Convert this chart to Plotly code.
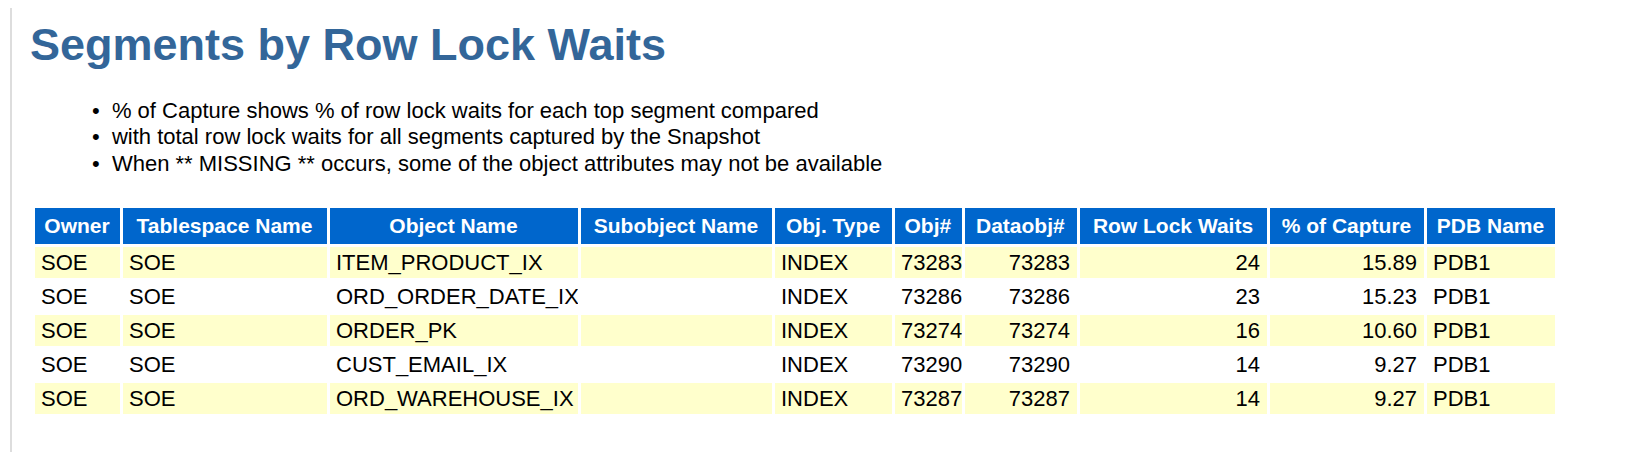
import plotly.graph_objects as go

W, H = 1649, 452

owner = ["SOE", "SOE", "SOE", "SOE", "SOE"]
tablespace = ["SOE", "SOE", "SOE", "SOE", "SOE"]
object_name = ["ITEM_PRODUCT_IX", "ORD_ORDER_DATE_IX", "ORDER_PK", "CUST_EMAIL_IX", "ORD_WAREHOUSE_IX"]
subobject = ["", "", "", "", ""]
obj_type = ["INDEX", "INDEX", "INDEX", "INDEX", "INDEX"]
obj_num = [73283, 73286, 73274, 73290, 73287]
dataobj_num = [73283, 73286, 73274, 73290, 73287]
row_lock_waits = [24, 23, 16, 14, 14]
pct_capture = [15.89, 15.23, 10.60, 9.27, 9.27]
pdb_name = ["PDB1", "PDB1", "PDB1", "PDB1", "PDB1"]

headers = ["Owner", "Tablespace Name", "Object Name", "Subobject Name", "Obj. Type",
           "Obj#", "Dataobj#", "Row Lock Waits", "% of Capture", "PDB Name"]
bullets = [
    "% of Capture shows % of row lock waits for each top segment compared",
    "with total row lock waits for all segments captured by the Snapshot",
    "When ** MISSING ** occurs, some of the object attributes may not be available",
]

col_w = [88, 207, 251, 194, 120, 70, 115, 190, 157, 131]
x0, x1 = 25, 1548
y_top = 198

columns = [owner, tablespace, object_name, subobject, obj_type,
           [str(v) for v in obj_num], [str(v) for v in dataobj_num],
           [str(v) for v in row_lock_waits], ["%.2f" % v for v in pct_capture], pdb_name]
align = ["left", "left", "left", "left", "left", "left", "right", "right", "right", "left"]
fills = [["#FFFFCC" if i % 2 == 0 else "#FFFFFF" for i in range(len(owner))]] * len(headers)

fig = go.Figure(go.Table(
    columnwidth=col_w,
    domain=dict(x=[x0 / W, x1 / W], y=[0, 1 - y_top / H]),
    header=dict(values=["<b>%s</b>" % h for h in headers], fill_color="#0066CC",
                line=dict(color="white", width=3), align="center", height=32,
                font=dict(family="Liberation Sans, Arial", size=21, color="white")),
    cells=dict(values=columns, fill_color=fills, line=dict(color="white", width=3),
               align=align, height=34,
               font=dict(family="Liberation Sans, Arial", size=22, color="black")),
))

fig.add_annotation(x=20 / W, y=1 - 37 / H, xref="paper", yref="paper", xanchor="left",
                   yanchor="middle", showarrow=False, text="<b>Segments by Row Lock Waits</b>",
                   font=dict(family="Liberation Sans, Arial", size=45, color="#336699"))
for i, b in enumerate(bullets):
    fig.add_annotation(x=82 / W, y=1 - (102 + 26.5 * i) / H, xref="paper", yref="paper",
                       xanchor="left", yanchor="middle", showarrow=False,
                       text="\u2022  " + b,
                       font=dict(family="Liberation Sans, Arial", size=22, color="black"))

fig.add_shape(type="line", xref="paper", yref="paper", x0=3 / W, x1=3 / W, y0=0, y1=1,
              line=dict(color="#DDDDDD", width=2))

fig.update_layout(width=W, height=H, margin=dict(l=0, r=0, t=0, b=0),
                  paper_bgcolor="white", plot_bgcolor="white")
fig.write_html("out.html")
